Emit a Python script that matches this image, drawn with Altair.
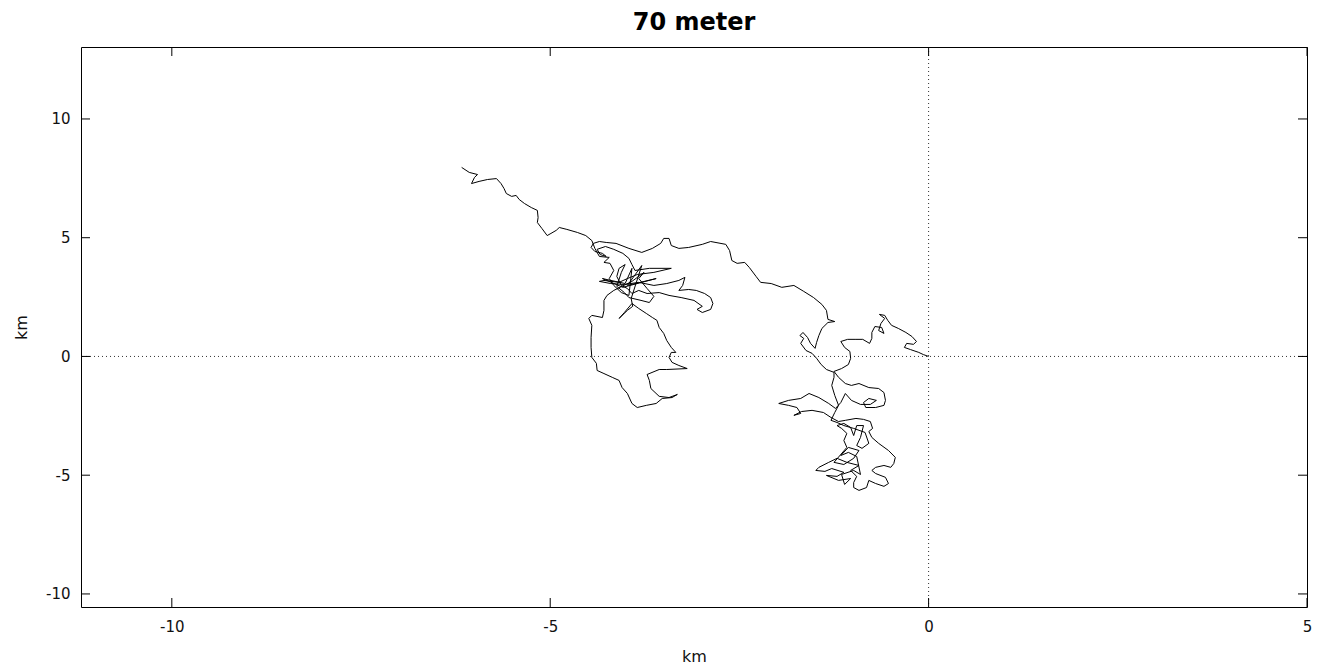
import altair as alt
import pandas as pd

# Trajectory (km), in walk order
path_x = [
    0.00, -0.07, -0.13, -0.24, -0.32, -0.29, -0.20, -0.16, -0.22, -0.30, -0.40, -0.49, -0.54, -0.58, -0.65, -0.58, -0.63, -0.66, -0.59, -0.62,
    -0.71, -0.75, -0.75, -0.78, -0.87, -0.96, -1.07, -1.16, -1.11, -1.04, -1.03, -1.06, -1.15, -1.25,
    -1.19, -1.10, -1.02, -0.92, -0.79, -0.66, -0.59, -0.57, -0.59, -0.70, -0.83, -0.86, -0.79, -0.69, -0.77, -0.90, -1.02, -1.10, -1.16, -1.23,
    -1.32, -1.45, -1.58, -1.69, -1.85, -1.98, -1.85, -1.74, -1.69, -1.78, -1.68, -1.54, -1.39, -1.29, -1.19, -1.10, -0.96, -0.86, -0.77, -0.74, -0.79,
    -0.75, -0.66, -0.53, -0.44, -0.46, -0.50, -0.59, -0.70, -0.75, -0.70, -0.57, -0.53, -0.59, -0.70, -0.79, -0.82, -0.92, -0.99, -0.99, -0.95,
    -1.03, -0.92, -1.08, -1.21, -1.32, -1.45, -1.49, -1.37, -1.28, -1.12, -1.21, -1.35, -1.19, -1.03, -1.11, -1.15, -0.99, -0.90, -0.95, -1.06,
    -1.16, -1.06, -0.92, -0.99, -1.12, -1.25, -1.08, -1.12, -1.08, -1.15, -1.21, -1.12, -1.03, -0.99, -0.95, -0.86, -0.90, -0.95, -0.88, -0.79,
    -0.84, -0.99, -1.12, -1.21, -1.29, -1.24, -1.19, -1.24, -1.28, -1.25, -1.25,
    -1.35, -1.42, -1.48, -1.54, -1.62, -1.69, -1.65, -1.70, -1.66, -1.60, -1.56, -1.50, -1.48, -1.45, -1.41, -1.33, -1.24, -1.33, -1.35, -1.41,
    -1.52, -1.65, -1.78, -1.94, -2.08, -2.22, -2.28, -2.37, -2.43, -2.53, -2.60, -2.63, -2.68, -2.88, -2.99, -3.17, -3.30, -3.40, -3.43, -3.50,
    -3.54, -3.65, -3.79, -3.96, -4.13, -4.26, -4.35, -4.43, -4.46, -4.41, -4.31, -4.26, -4.34, -4.38, -4.27,
    -4.16, -4.04, -3.96, -3.92, -3.88, -3.69, -3.40, -3.63, -3.85, -3.98, -4.09, -4.29, -4.35, -4.20, -4.02, -3.83, -3.63, -3.46, -3.30, -3.22,
    -3.25, -3.30, -3.17, -3.07, -2.96, -2.88, -2.85, -2.88, -2.99, -3.06, -2.99, -3.10, -3.27, -3.43, -3.56, -3.72, -3.83, -3.92, -3.98, -4.06,
    -4.12, -4.09, -4.01, -4.06, -4.12, -4.02, -3.96, -3.80, -3.69, -3.63, -3.72, -3.83, -3.76, -3.92, -4.16, -4.25, -4.29,
    -4.29, -4.31, -4.45, -4.49, -4.45, -4.46, -4.46, -4.45, -4.39, -4.38, -4.29, -4.18, -4.09, -4.05, -3.98, -3.92, -3.85, -3.73, -3.60, -3.52,
    -3.39, -3.32, -3.43, -3.56, -3.67, -3.69, -3.72, -3.56, -3.46, -3.19, -3.30, -3.39, -3.43, -3.40, -3.34, -3.40, -3.46, -3.50, -3.56, -3.59,
    -3.65, -3.73, -3.83, -3.92, -4.02, -4.09, -3.98, -3.91, -3.93,
    -3.79, -3.98, -3.60, -4.04, -4.31, -4.01, -3.92, -3.96,
    -4.06, -4.16, -4.22, -4.16, -4.21, -4.29, -4.22, -4.35, -4.41, -4.45,
    -4.53, -4.64, -4.78, -4.88, -4.92, -4.99, -5.04, -5.11, -5.17, -5.16, -5.17, -5.25, -5.34, -5.41, -5.45, -5.51, -5.58, -5.61, -5.65, -5.71,
    -5.83, -5.94, -6.04, -6.00, -5.96, -6.07, -6.17,
]
path_y = [
    0.00, 0.08, 0.17, 0.29, 0.38, 0.55, 0.51, 0.63, 0.84, 1.01, 1.18, 1.31, 1.52, 1.73, 1.77, 1.60, 1.39, 1.09, 0.97, 1.22,
    1.26, 1.01, 0.76, 0.55, 0.72, 0.72, 0.72, 0.63, 0.38, 0.21, -0.08, -0.34, -0.51, -0.63,
    -0.88, -1.14, -1.22, -1.14, -1.31, -1.35, -1.52, -1.85, -2.06, -2.15, -2.15, -1.94, -1.77, -1.85, -2.02, -2.02, -1.85, -1.56, -1.94, -2.19,
    -1.98, -1.73, -1.56, -1.77, -1.85, -1.98, -2.06, -2.15, -2.40, -2.48, -2.32, -2.27, -2.36, -2.57, -2.74, -2.69, -2.61, -2.65, -2.74, -3.03, -3.16,
    -3.41, -3.66, -3.96, -4.25, -4.51, -4.67, -4.59, -4.67, -4.80, -4.93, -5.09, -5.35, -5.47, -5.35, -5.22, -5.52, -5.64, -5.52, -5.31, -5.05,
    -4.80, -4.59, -4.46, -4.29, -4.46, -4.67, -4.80, -4.84, -4.72, -4.88, -5.05, -5.01, -5.22, -5.14, -5.39, -4.97, -4.80, -4.97, -4.21, -4.04,
    -4.17, -3.83, -3.96, -4.29, -4.55, -4.46, -3.83, -3.54, -3.24, -3.03, -2.91, -2.82, -2.99, -3.33, -2.91, -2.91, -3.41, -3.75, -3.87, -3.66,
    -3.20, -3.03, -2.91, -2.78, -2.69, -2.36, -2.06, -1.64, -1.22, -0.88, -0.67,
    -0.55, -0.34, -0.08, 0.13, 0.25, 0.55, 0.76, 0.88, 1.01, 0.80, 0.55, 0.34, 0.59, 0.88, 1.18, 1.43, 1.47, 1.56, 1.94, 2.19,
    2.48, 2.74, 2.99, 2.91, 3.07, 3.12, 3.37, 3.75, 3.96, 3.92, 4.04, 4.46, 4.72, 4.84, 4.72, 4.59, 4.55, 4.67, 4.97, 4.97,
    4.76, 4.55, 4.38, 4.55, 4.76, 4.80, 4.84, 4.76, 4.59, 4.42, 4.34, 4.21, 4.29, 4.51, 4.63,
    4.51, 4.34, 4.13, 3.87, 3.62, 3.71, 3.71, 3.54, 3.45, 3.28, 3.12, 3.20, 3.16, 3.07, 3.03, 3.12, 2.99, 3.07, 3.20, 3.33,
    2.99, 2.78, 2.82, 2.78, 2.65, 2.48, 2.23, 1.98, 1.85, 1.98, 2.11, 2.36, 2.48, 2.57, 2.69, 2.65, 2.78, 2.65, 2.86, 2.99,
    3.37, 3.71, 3.87, 3.54, 2.95, 2.69, 2.48, 2.36, 2.27, 2.53, 2.86, 3.28, 3.54, 3.16, 2.78, 2.57, 2.36,
    1.94, 1.64, 1.73, 1.60, 1.31, 0.80, 0.38, -0.04, -0.29, -0.59, -0.72, -0.88, -1.01, -1.31, -1.56, -1.98, -2.15, -2.06, -1.98, -1.77,
    -1.73, -1.60, -1.73, -1.68, -1.35, -1.01, -0.76, -0.55, -0.55, -0.51, -0.38, -0.25, -0.04, 0.17, 0.17, 0.38, 0.67, 0.97, 1.22, 1.52,
    1.64, 1.81, 2.02, 2.23, 1.85, 1.60, 1.94, 2.11, 2.44,
    3.83, 2.99, 3.28, 2.91, 3.28, 3.07, 3.71, 2.57,
    2.69, 2.99, 3.28, 3.62, 3.92, 3.96, 4.17, 4.21, 4.55, 4.88,
    5.09, 5.22, 5.35, 5.43, 5.31, 5.18, 5.09, 5.39, 5.64, 5.85, 6.15, 6.27, 6.44, 6.61, 6.78, 6.74, 6.86, 7.07, 7.28, 7.49,
    7.45, 7.37, 7.28, 7.54, 7.66, 7.75, 7.96,
]

x_ticks = [-10, -5, 0, 5]
y_ticks = [-10, -5, 0, 5, 10]
x_domain = [-11.2, 5]
y_domain = [-10.55, 13.03]
zero = [0]

n = min(len(path_x), len(path_y))
df = pd.DataFrame({"x": path_x[:n], "y": path_y[:n], "step": list(range(n))})
xt = pd.DataFrame({"x": x_ticks})
yt = pd.DataFrame({"y": y_ticks})
zx = pd.DataFrame({"x": zero})
zy = pd.DataFrame({"y": zero})

W, H = 1226, 560
TL = 9
FONT = "DejaVu Sans"

xs = alt.Scale(domain=x_domain, nice=False, zero=False)
ys = alt.Scale(domain=y_domain, nice=False, zero=False)

label_expr = "'' + datum.value"
x_axis = alt.Axis(values=x_ticks, title="km", ticks=False, domain=False, grid=False,
                  labelExpr=label_expr,
                  labelPadding=12, labelFontSize=15, labelFont=FONT, labelColor="#111",
                  titleFontSize=16, titleFont=FONT, titleFontWeight="normal", titleColor="#111",
                  titlePadding=14, labelFlush=False)
y_axis = alt.Axis(values=y_ticks, title="km", ticks=False, domain=False, grid=False,
                  labelExpr=label_expr,
                  labelPadding=11, labelFontSize=15, labelFont=FONT, labelColor="#111",
                  titleFontSize=16, titleFont=FONT, titleFontWeight="normal", titleColor="#111",
                  titlePadding=16, labelFlush=False)

X = alt.X("x:Q", scale=xs, axis=x_axis)
Y = alt.Y("y:Q", scale=ys, axis=y_axis)

path = alt.Chart(df).mark_line(color="black", strokeWidth=1, strokeJoin="round").encode(
    x=X, y=Y, order="step:Q",
)

vzero = alt.Chart(zx).mark_rule(color="#333", strokeWidth=1, strokeDash=[1, 3]).encode(x=X)
hzero = alt.Chart(zy).mark_rule(color="#333", strokeWidth=1, strokeDash=[1, 3]).encode(y=Y)

tick_style = dict(color="black", strokeWidth=1)
bx = alt.Chart(xt).mark_rule(**tick_style).encode(x=X, y=alt.value(H), y2=alt.value(H - TL))
tx = alt.Chart(xt).mark_rule(**tick_style).encode(x=X, y=alt.value(0), y2=alt.value(TL))
ly = alt.Chart(yt).mark_rule(**tick_style).encode(y=Y, x=alt.value(0), x2=alt.value(TL))
ry = alt.Chart(yt).mark_rule(**tick_style).encode(y=Y, x=alt.value(W), x2=alt.value(W - TL))

chart = alt.layer(vzero, hzero, path, bx, tx, ly, ry).properties(
    width=W,
    height=H,
    title=alt.TitleParams("70 meter", fontSize=24, fontWeight="bold", font=FONT,
                          color="black", anchor="middle", offset=12),
    autosize=alt.AutoSizeParams(type="none"),
    padding={"left": 81, "top": 47, "right": 19, "bottom": 64},
).configure(background="white").configure_view(stroke="black", strokeWidth=1)

chart.save("out.html", embed_options={"renderer": "svg", "actions": False})
